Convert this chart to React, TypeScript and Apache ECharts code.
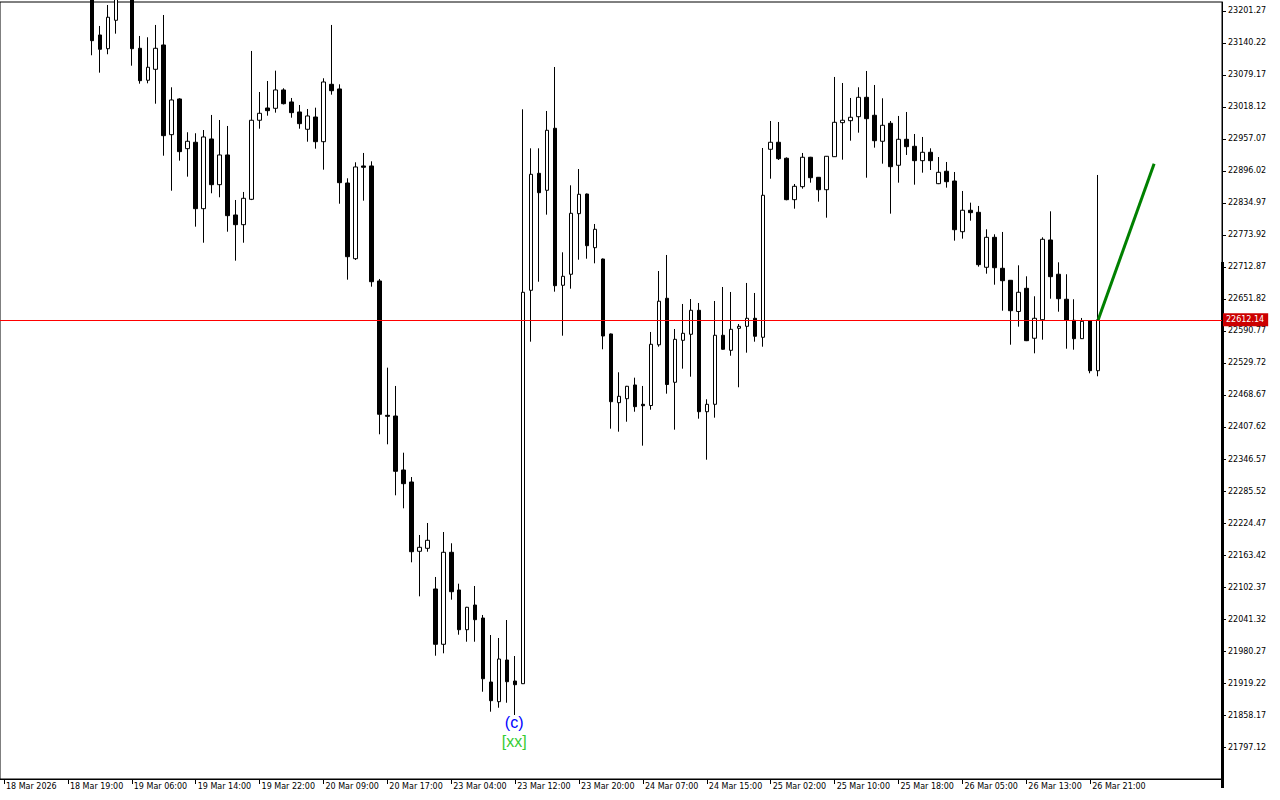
import React, { useEffect, useRef } from 'react';
import * as echarts from 'echarts';

const timeLabels = [
  '18 Mar 2026', '18 Mar 19:00', '19 Mar 06:00', '19 Mar 14:00', '19 Mar 22:00',
  '20 Mar 09:00', '20 Mar 17:00', '23 Mar 04:00', '23 Mar 12:00', '23 Mar 20:00',
  '24 Mar 07:00', '24 Mar 15:00', '25 Mar 02:00', '25 Mar 10:00', '25 Mar 18:00',
  '26 Mar 05:00', '26 Mar 13:00', '26 Mar 21:00',
];

const priceTicks = [
  23201.27, 23140.22, 23079.17, 23018.12, 22957.07, 22896.02, 22834.97, 22773.92,
  22712.87, 22651.82, 22590.77, 22529.72, 22468.67, 22407.62, 22346.57, 22285.52,
  22224.47, 22163.42, 22102.37, 22041.32, 21980.27, 21919.22, 21858.17, 21797.12,
];

// hourly bars, [open, close, low, high]; the first bars of the window lie above the visible range
const firstCandleIndex = 11;
const candles = [
  [23241, 23144.6, 23116.8, 23260],
  [23155.5, 23128.2, 23083.6, 23172.7],
  [23129.3, 23189.3, 23118.7, 23212.7],
  [23183.5, 23231.8, 23158.0, 23250.9],
  [23235, 23262, 23228, 23280],
  [23250, 23129.3, 23096.9, 23265],
  [23130.1, 23068.3, 23062.6, 23153.6],
  [23069.1, 23093.9, 23063.3, 23151.1],
  [23090.0, 23130.1, 23024.4, 23174.6],
  [23136.4, 22963.4, 22925.2, 23193.6],
  [22965.3, 23031.5, 22858.4, 23055.7],
  [23033.4, 22932.9, 22915.7, 23034.7],
  [22938.6, 22952.7, 22885.2, 22969.9],
  [22950.8, 22824.1, 22789.8, 22968.0],
  [22824.1, 22960.9, 22759.2, 22974.2],
  [22957.1, 22869.9, 22853.5, 23002.9],
  [22869.9, 22926.6, 22845.9, 22993.3],
  [22926.6, 22810.8, 22780.2, 22981.9],
  [22812.1, 22793.6, 22724.9, 22840.7],
  [22793.6, 22843.9, 22759.2, 22856.0],
  [22842.0, 22992.8, 22840.5, 23125.0],
  [22992.8, 23006.1, 22976.7, 23046.7],
  [23016.2, 23011.1, 23001.5, 23067.7],
  [23015.6, 23050.6, 23007.3, 23087.4],
  [23050.6, 23024.4, 23023.0, 23053.8],
  [23027.7, 23007.3, 22997.7, 23035.3],
  [23008.6, 22986.3, 22976.7, 23021.9],
  [22975.6, 23001.0, 22951.9, 23014.3],
  [22999.0, 22951.9, 22938.6, 23016.8],
  [22951.9, 23065.8, 22898.5, 23072.9],
  [23061.4, 23049.2, 23041.6, 23174.6],
  [23052.5, 22873.7, 22833.6, 23061.4],
  [22873.1, 22732.5, 22688.7, 22882.1],
  [22728.7, 22903.7, 22726.2, 22912.6],
  [22905.6, 22903.1, 22839.4, 22930.4],
  [22905.6, 22684.8, 22675.3, 22914.5],
  [22686.2, 22431.9, 22393.7, 22690.0],
  [22429.9, 22428.0, 22374.6, 22520.8],
  [22428.6, 22323.1, 22277.3, 22485.9],
  [22325.6, 22299.5, 22252.5, 22358.6],
  [22302.7, 22169.7, 22149.5, 22312.2],
  [22170.5, 22178.1, 22084.6, 22201.6],
  [22176.2, 22191.5, 22169.7, 22224.5],
  [22098.6, 21993.1, 21971.3, 22121.5],
  [21993.1, 22168.6, 21975.9, 22207.3],
  [22168.6, 22093.4, 22078.2, 22185.8],
  [22096.7, 22020.9, 22011.4, 22108.7],
  [22020.9, 22063.7, 21998.0, 22064.5],
  [22068.0, 22040.0, 21998.0, 22104.3],
  [22043.2, 21927.4, 21902.6, 22049.0],
  [21921.1, 21885.5, 21864.5, 22010.8],
  [21883.6, 21965.0, 21872.1, 22005.1],
  [21963.1, 21921.7, 21881.6, 22039.4],
  [21923.0, 21916.0, 21858.2, 21970.7],
  [21917.9, 22664.6, 21917.3, 23013.7],
  [22668.4, 22889.7, 22570.4, 22939.3],
  [22891.6, 22854.6, 22684.8, 22939.3],
  [22859.2, 22973.7, 22812.7, 23010.5],
  [22977.5, 22677.2, 22665.8, 23094.4],
  [22678.0, 22695.1, 22581.8, 22740.9],
  [22699.0, 22815.3, 22671.5, 22868.7],
  [22814.6, 22851.6, 22726.8, 22899.8],
  [22852.1, 22753.5, 22728.7, 22853.0],
  [22749.7, 22784.8, 22719.9, 22794.9],
  [22728.1, 22581.2, 22555.9, 22729.0],
  [22585.1, 22455.9, 22404.4, 22586.0],
  [22454.0, 22466.2, 22398.7, 22512.0],
  [22461.6, 22485.3, 22417.7, 22486.0],
  [22487.8, 22446.4, 22436.8, 22501.7],
  [22450.9, 22448.2, 22372.0, 22485.9],
  [22448.6, 22565.4, 22440.6, 22588.9],
  [22564.4, 22647.6, 22560.8, 22705.2],
  [22653.2, 22488.7, 22471.2, 22735.8],
  [22492.9, 22574.9, 22402.5, 22594.6],
  [22573.0, 22586.4, 22518.9, 22642.3],
  [22584.5, 22630.3, 22503.6, 22651.8],
  [22630.3, 22436.8, 22423.5, 22644.2],
  [22436.8, 22450.9, 22345.2, 22460.5],
  [22450.9, 22582.6, 22425.4, 22648.0],
  [22582.6, 22555.9, 22555.0, 22674.7],
  [22553.9, 22594.0, 22543.6, 22665.2],
  [22595.9, 22599.7, 22483.4, 22604.1],
  [22599.7, 22615.0, 22549.4, 22682.4],
  [22615.0, 22580.7, 22570.4, 22663.3],
  [22578.8, 22849.7, 22560.8, 22939.9],
  [22937.4, 22950.8, 22881.3, 22991.4],
  [22950.8, 22919.5, 22917.0, 22989.5],
  [22920.3, 22841.3, 22840.1, 22922.0],
  [22841.3, 22866.8, 22824.1, 22871.2],
  [22866.1, 22922.2, 22862.3, 22930.4],
  [22922.2, 22883.2, 22873.7, 22923.0],
  [22884.0, 22860.3, 22837.5, 22884.5],
  [22860.3, 22924.1, 22806.9, 22924.5],
  [22923.3, 22988.9, 22923.0, 23075.4],
  [22988.2, 22992.8, 22917.6, 23063.9],
  [22992.0, 22998.5, 22953.8, 23035.3],
  [22999.6, 23036.6, 22969.1, 23055.7],
  [23036.6, 22995.8, 22883.2, 23086.8],
  [23002.3, 22953.8, 22940.5, 23060.1],
  [22952.7, 22983.2, 22910.0, 23034.7],
  [22987.0, 22904.2, 22814.6, 22991.4],
  [22906.9, 22956.5, 22873.7, 23001.0],
  [22956.5, 22942.4, 22926.6, 23008.6],
  [22943.1, 22915.7, 22869.9, 22966.6],
  [22915.7, 22931.7, 22892.8, 22960.9],
  [22931.7, 22915.7, 22897.9, 22939.3],
  [22871.8, 22893.5, 22871.0, 22922.7],
  [22895.5, 22875.6, 22864.2, 22913.2],
  [22876.9, 22784.0, 22763.1, 22894.1],
  [22780.2, 22821.1, 22766.9, 22857.9],
  [22821.1, 22816.5, 22801.2, 22835.6],
  [22817.2, 22717.3, 22713.5, 22829.3],
  [22712.3, 22769.5, 22700.1, 22784.8],
  [22769.5, 22711.5, 22679.1, 22775.3],
  [22710.4, 22686.7, 22629.5, 22779.7],
  [22687.5, 22629.5, 22564.6, 22688.0],
  [22628.0, 22664.6, 22599.0, 22716.1],
  [22672.2, 22572.3, 22571.5, 22695.1],
  [22576.9, 22615.0, 22548.2, 22657.0],
  [22612.3, 22765.7, 22574.2, 22769.5],
  [22764.4, 22694.4, 22652.4, 22819.1],
  [22699.0, 22652.4, 22627.6, 22721.8],
  [22651.3, 22611.2, 22557.0, 22699.0],
  [22611.2, 22576.1, 22555.1, 22651.3],
  [22576.1, 22609.3, 22575.5, 22615.6],
  [22610.4, 22515.0, 22510.1, 22611.0],
  [22515.0, 22612.14, 22504.4, 22888.4],
];

const lastPrice = 22612.14;
const forecastPoints = [
  [137, 22612.14],
  [144, 22910.0],
];
const waveLabelPoint = [64, 21858.2];
const waveLabels = ['(c)', '[xx]'];

const yMin = 21736.1;
const yMax = 23218.4;
const slotCount = 153;
const labelEvery = 8;

export default function App() {
  const ref = useRef<HTMLDivElement>(null);

  useEffect(() => {
    const chart = echarts.init(ref.current as HTMLDivElement, null, { renderer: 'svg' });
    const categories = Array.from({ length: slotCount }, (_, i) => String(i));
    const empty = Array.from({ length: firstCandleIndex }, () => ['-', '-', '-', '-']);
    const data = [...empty, ...candles];
    const showTick = (i: number) => i % labelEvery === 0 && i / labelEvery < timeLabels.length;
    const font = 'DejaVu Sans';

    chart.setOption({
      animation: false,
      backgroundColor: '#ffffff',
      grid: {
        left: -2,
        right: 58,
        top: 2,
        bottom: 21,
        show: true,
        borderColor: '#000000',
        borderWidth: 1,
        backgroundColor: 'transparent',
      },
      xAxis: {
        type: 'category',
        data: categories,
        boundaryGap: true,
        axisLine: { show: true, lineStyle: { color: '#000000', width: 1 } },
        axisTick: {
          show: true,
          alignWithLabel: true,
          interval: (i: number) => showTick(i),
          length: 5,
          lineStyle: { color: '#000000' },
        },
        axisLabel: {
          show: true,
          interval: (i: number) => showTick(i),
          formatter: (v: string) => {
            const n = Number(v);
            return n % labelEvery === 0 ? timeLabels[n / labelEvery] || '' : '';
          },
          align: 'left',
          margin: 3,
          padding: [0, 0, 0, 2],
          color: '#000000',
          fontFamily: font,
          fontSize: 8,
        },
        splitLine: { show: false },
      },
      yAxis: {
        type: 'value',
        position: 'right',
        min: yMin,
        max: yMax,
        scale: true,
        axisLine: { show: true, lineStyle: { color: '#000000', width: 1 } },
        axisTick: {
          show: true,
          length: 4,
          customValues: priceTicks,
          lineStyle: { color: '#000000' },
        },
        axisLabel: {
          show: true,
          customValues: priceTicks,
          formatter: (v: number) => v.toFixed(2),
          margin: 6,
          padding: [2, 0, 0, 0],
          color: '#000000',
          fontFamily: font,
          fontSize: 8,
        },
        splitLine: { show: false },
      },
      graphic: [
        {
          type: 'rect',
          shape: { x: 1221, y: 262, width: 3, height: 526 },
          style: { fill: '#000000' },
          silent: true,
          z: 1,
        },
      ],
      series: [
        {
          type: 'candlestick',
          data,
          barWidth: 4,
          clip: true,
          itemStyle: {
            color: '#ffffff',
            color0: '#000000',
            borderColor: '#000000',
            borderColor0: '#000000',
            borderWidth: 1,
          },
          markLine: {
            silent: true,
            symbol: ['none', 'none'],
            data: [{ yAxis: lastPrice }],
            lineStyle: { color: '#ff0000', width: 1, type: 'solid' },
            label: {
              show: true,
              position: 'end',
              distance: 1,
              formatter: () => lastPrice.toFixed(2),
              color: '#ffffff',
              backgroundColor: '#cc0000',
              padding: [3, 4, 2, 3],
              fontFamily: font,
              fontSize: 8,
            },
            emphasis: { disabled: true },
          },
          markPoint: {
            silent: true,
            symbol: 'circle',
            symbolSize: 0,
            data: [
              {
                coord: waveLabelPoint,
                label: {
                  show: true,
                  position: 'bottom',
                  distance: -2,
                  offset: [-1, 0],
                  formatter: `{c|${waveLabels[0]}}\n{x|${waveLabels[1]}}`,
                  rich: {
                    c: { color: '#0000ff', fontSize: 16, lineHeight: 19, fontFamily: 'Liberation Sans' },
                    x: { color: '#33cc33', fontSize: 16, lineHeight: 20, fontFamily: 'Liberation Sans' },
                  },
                },
              },
            ],
          },
        },
        {
          type: 'line',
          data: forecastPoints,
          symbol: 'none',
          lineStyle: { color: '#008000', width: 3 },
          z: 5,
        },
      ],
    });

    return () => chart.dispose();
  }, []);

  return (
    <div
      ref={ref}
      style={{ position: 'fixed', left: 0, top: 0, width: 1280, height: 800, background: '#ffffff' }}
    />
  );
}
